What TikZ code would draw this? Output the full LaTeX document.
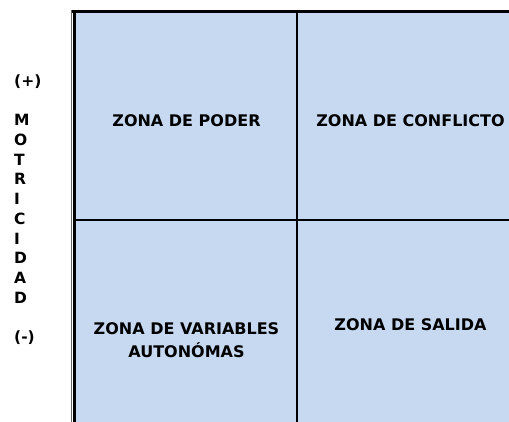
\documentclass[tikz,border=0pt]{standalone}
\usepackage{fontspec}
\setmainfont{DejaVu Sans}
\usetikzlibrary{positioning}
\definecolor{zonefill}{HTML}{C6D9F0}
\begin{document}
\begin{tikzpicture}[x=1pt,y=-1pt,
    zonelabel/.style={font=\fontsize{16}{23}\selectfont\bfseries,align=center,inner sep=0},
    axislabel/.style={font=\fontsize{15.5}{19.7}\selectfont\bfseries,align=left,inner sep=0,anchor=north west}]
    \pgfmathsetmacro{\boxleft}{76}
    \pgfmathsetmacro{\boxtop}{13}
    \pgfmathsetmacro{\midx}{297}
    \pgfmathsetmacro{\midy}{220}
    \useasboundingbox (0,0) rectangle (509,421);
    \begin{scope}
    \clip (0,0) rectangle (509,421);
    \fill[zonefill] (\boxleft,\boxtop) rectangle (530,440);
    % bordes
    \draw[line width=3pt] (72,11.5) -- (530,11.5);
    \draw[line width=3pt] (74.5,10) -- (74.5,440);
    \draw[line width=1.3pt,black!60] (71.2,10) -- (71.2,440);
    % divisiones
    \draw[line width=2pt] (\midx,\boxtop) -- (\midx,440);
    \draw[line width=2pt] (\boxleft,\midy) -- (530,\midy);
    \end{scope}
    \node[zonelabel] (poder) at (186.5,121) {ZONA DE PODER};
    \node[zonelabel] (conflicto) at (410.5,121) {ZONA DE CONFLICTO};
    \node[zonelabel] (autonomas) at (186.5,340.5) {ZONA DE VARIABLES\\AUTONÓMAS};
    \node[zonelabel] (salida) at (410.5,325) {ZONA DE SALIDA};
    \node[axislabel] (motricidad) at (14,74.5) {(+)\\[19.7pt]M\\O\\T\\R\\I\\C\\I\\D\\A\\D\\[19.7pt](-)};
\end{tikzpicture}
\end{document}
